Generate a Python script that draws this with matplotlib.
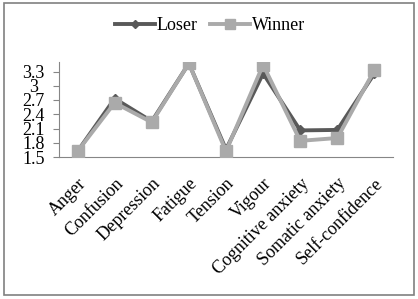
import matplotlib.pyplot as plt
from matplotlib.patches import Rectangle

# mood / anxiety scores
categories = ['Anger', 'Confusion', 'Depression', 'Fatigue', 'Tension', 'Vigour',
              'Cognitive anxiety', 'Somatic anxiety', 'Self-confidence']
loser = [1.62, 2.73, 2.25, 3.47, 1.66, 3.26, 2.06, 2.07, 3.26]
winner = [1.62, 2.64, 2.23, 3.47, 1.62, 3.44, 1.84, 1.90, 3.33]
yticks = [1.5, 1.8, 2.1, 2.4, 2.7, 3, 3.3]

plt.rcParams['font.family'] = ['Liberation Serif', 'DejaVu Serif']

fig = plt.figure(figsize=(4.18, 2.99), dpi=100)
ax = fig.add_axes([59 / 418, 1 - 157 / 299, (393 - 59) / 418, (157 - 62) / 299])

x = list(range(len(categories)))
ax.plot(x, loser, color='#595959', linewidth=2.8, marker='D', markersize=5.5,
        label='Loser', zorder=2)
ax.plot(x, winner, color='#aaaaaa', linewidth=2.8, marker='s', markersize=9,
        label='Winner', zorder=3)

ax.set_xlim(-0.5, 8.5)
ax.set_ylim(1.5, 3.5)
ax.set_yticks(yticks)
ax.set_yticklabels(['1.5', '1.8', '2.1', '2.4', '2.7', '3', '3.3'], fontsize=13,
                   ha='center')
ax.set_xticks(x)
ax.set_xticklabels(categories, rotation=45, ha='right', rotation_mode='anchor',
                   fontsize=13)
ax.tick_params(axis='x', length=0, pad=13)
ax.tick_params(axis='y', length=4.3, color='#868686', pad=14)

for side in ['top', 'right']:
    ax.spines[side].set_visible(False)
for side in ['left', 'bottom']:
    ax.spines[side].set_color('#868686')

fig.legend(loc='center', bbox_to_anchor=(210 / 418, 1 - 26 / 299), ncol=2,
           frameon=False, fontsize=13, handlelength=2.2, columnspacing=0.7,
           handletextpad=0.1, markerscale=0.8)

# grey border round the chart area
fig.patches.append(Rectangle((4 / 418, 4 / 299), 410 / 418, 292 / 299,
                             transform=fig.transFigure, fill=False,
                             edgecolor='#808080', linewidth=1.2))

fig.savefig('out.png', dpi=100)
